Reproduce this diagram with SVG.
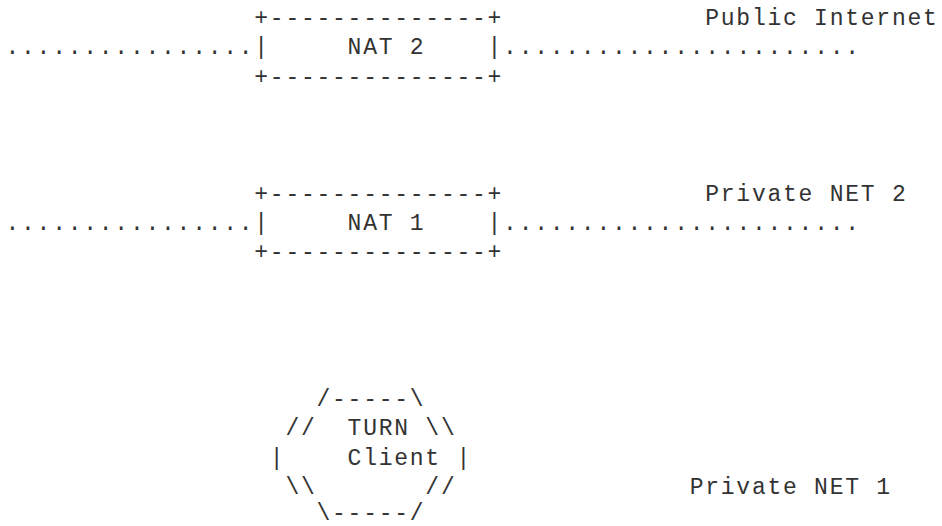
<svg xmlns="http://www.w3.org/2000/svg" width="942" height="526" viewBox="0 0 942 526">
  <style>
    /* monospace grid: 15.55px per column, 29.3px per row */
    .t { font-family: "Liberation Mono", "Courier New", monospace; font-size: 23px; letter-spacing: 1.75px; fill: #333; white-space: pre; }
  </style>
  <rect width="942" height="526" fill="#fff"/>

  <!-- dotted network segments -->
  <g id="connectors" class="t">
    <text x="5.5" y="54.3">................</text>
    <text x="503.1" y="54.3">.......................</text>
    <text x="5.5" y="230.1">................</text>
    <text x="503.1" y="230.1">.......................</text>
  </g>

  <g id="nat2" class="t">
    <text x="254.3" y="25">+--------------+</text>
    <text x="254.3" y="54.3">|</text>
    <text x="347.6" y="54.3">NAT 2</text>
    <text x="487.55" y="54.3">|</text>
    <text x="254.3" y="83.6">+--------------+</text>
  </g>

  <g id="nat1" class="t">
    <text x="254.3" y="200.8">+--------------+</text>
    <text x="254.3" y="230.1">|</text>
    <text x="347.6" y="230.1">NAT 1</text>
    <text x="487.55" y="230.1">|</text>
    <text x="254.3" y="259.4">+--------------+</text>
  </g>

  <g id="turn-client" class="t">
    <text x="316.5" y="405.9">/-----\</text>
    <text x="285.4" y="435.2">//</text>
    <text x="347.6" y="435.2">TURN</text>
    <text x="425.35" y="435.2">\\</text>
    <text x="269.85" y="464.5">|</text>
    <text x="347.6" y="464.5">Client</text>
    <text x="456.45" y="464.5">|</text>
    <text x="285.4" y="493.8">\\</text>
    <text x="425.35" y="493.8">//</text>
    <text x="316.5" y="519.5">\-----/</text>
  </g>

  <g id="labels" class="t">
    <text id="public-internet" x="705.25" y="25">Public Internet</text>
    <text id="private-net-2" x="705.25" y="200.8">Private NET 2</text>
    <text id="private-net-1" x="689.7" y="493.8">Private NET 1</text>
  </g>
</svg>
